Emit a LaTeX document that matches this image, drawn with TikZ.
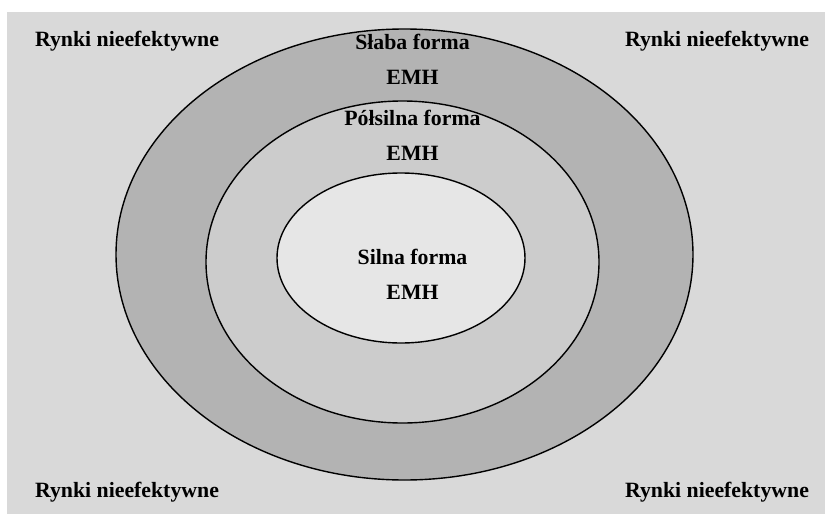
\documentclass[tikz,border=0pt]{standalone}
\usepackage{fontspec}
\setmainfont{Liberation Serif}
\usetikzlibrary{shapes.geometric}
\definecolor{bggray}{HTML}{D9D9D9}
\definecolor{weakgray}{HTML}{B3B3B3}
\definecolor{semigray}{HTML}{CCCCCC}
\definecolor{stronggray}{HTML}{E6E6E6}
\begin{document}
\begin{tikzpicture}[
    x=1pt, y=-1pt,
    form/.style={ellipse, draw, line width=1.4pt, inner sep=0pt},
    label/.style={font=\fontsize{21.8}{26}\selectfont\bfseries, inner sep=0pt},
    corner/.style={label}
]
    \useasboundingbox (0,0) rectangle (825,514);
    \fill [bggray] (7,12) rectangle (825,514);

    % Nested forms
    \node [form, fill=weakgray, minimum width=577, minimum height=451] (weak) at (404.5,254.5) {};
    \node [form, fill=semigray, minimum width=393, minimum height=322] (semi) at (402.5,262) {};
    \node [form, fill=stronggray, minimum width=248, minimum height=170] (strong) at (401,258) {};

    % Form labels
    \node [label] (weakname) at (412.5,42) {Słaba forma};
    \node [label] (weakemh) at (412.5,77) {EMH};
    \node [label] (seminame) at (412.5,118) {Półsilna forma};
    \node [label] (semiemh) at (412.5,153) {EMH};
    \node [label] (strongname) at (412.5,257) {Silna forma};
    \node [label] (strongemh) at (412.5,292) {EMH};

    % Inefficient markets
    \node [corner] (nw) at (127,41) {Rynki nieefektywne};
    \node [corner] (ne) at (717,41) {Rynki nieefektywne};
    \node [corner] (sw) at (127,492) {Rynki nieefektywne};
    \node [corner] (se) at (717,492) {Rynki nieefektywne};
\end{tikzpicture}
\end{document}
